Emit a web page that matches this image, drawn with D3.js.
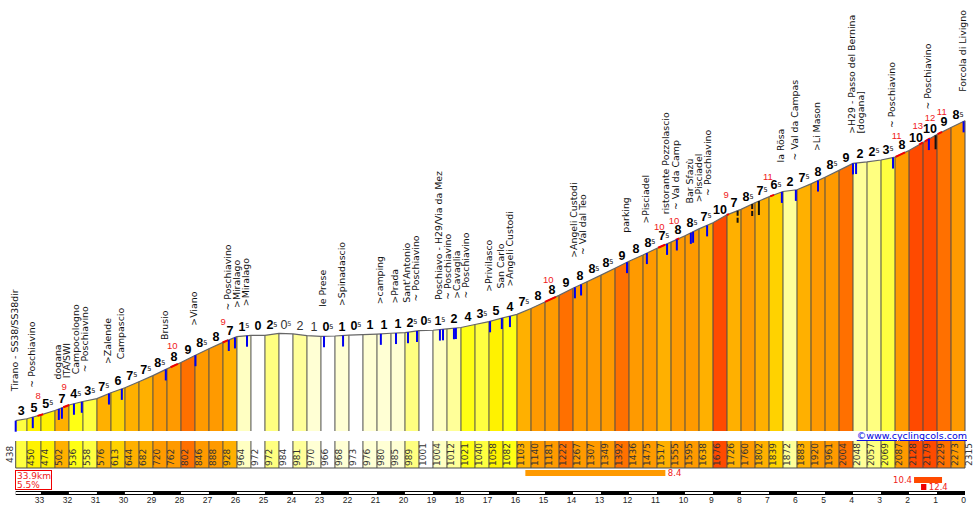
<!DOCTYPE html>
<html>
<head>
<meta charset="utf-8">
<script src="https://cdn.jsdelivr.net/npm/d3@7"></script>
<style>
    html, body { margin: 0; padding: 0; background: #fff; }
    svg { display: block; }
    text { font-family: "DejaVu Sans", sans-serif; }
</style>
</head>
<body>
<svg id="chart"></svg>
<script>
// km to the top at every segment boundary
const kmMarks = [33.9, 33.5, 33, 32.5, 32, 31.5, 31, 30.5, 30, 29.5, 29, 28.5, 28, 27.5, 27, 26.5, 26,
    25.5, 25, 24.5, 24, 23.5, 23, 22.5, 22, 21.5, 21, 20.5, 20, 19.5, 19, 18.5, 18, 17.5, 17, 16.5, 16,
    15.5, 15, 14.5, 14, 13.5, 13, 12.5, 12, 11.5, 11, 10.5, 10, 9.5, 9, 8.5, 8, 7.5, 7, 6.5, 6,
    5.5, 5, 4.5, 4, 3.5, 3, 2.5, 2, 1.5, 1, 0.5, 0];

// altitude at every boundary
const elevations = [438, 450, 474, 502, 536, 558, 576, 613, 644, 682, 720, 762, 802, 846, 888, 928, 964,
    972, 972, 984, 981, 970, 966, 968, 973, 976, 980, 985, 989, 1001, 1004, 1012, 1021, 1040, 1058, 1082, 1103,
    1140, 1181, 1222, 1267, 1307, 1349, 1392, 1436, 1475, 1517, 1555, 1595, 1638, 1676, 1726, 1760, 1802, 1839, 1872, 1883,
    1920, 1961, 2004, 2048, 2057, 2069, 2087, 2128, 2179, 2229, 2273, 2315];

// gradient printed above each segment
const grades = [3, 5, 5.5, 7, 4.5, 3.5, 7.5, 6, 7.5, 7.5, 8.5, 8, 9, 8.5, 8, 7,
    1.5, 0, 2.5, 0.5, 2, 1, 0.5, 1, 0.5, 1, 1, 1, 2.5, 0.5, 1.5, 2, 4, 3.5, 5, 4,
    7.5, 8, 8, 9, 8, 8.5, 8.5, 9, 8, 8.5, 7.5, 8, 8.5, 7.5, 10, 7, 8.5, 7.5, 6.5, 2,
    7.5, 8, 8.5, 9, 2, 2.5, 3.5, 8, 10, 10, 9, 8.5];

// segments that go downhill, printed in a lighter weight
const descents = [19, 20, 21];

const placeNames = ["Tirano - SS38/SS38dir", "~ Poschiavino", "dogana", "ITA/SWI", "Campocologno", "~ Poschiavino",
    ">Zalende", "Campascio", "Brusio", ">Viano", "~ Poschiavino", ">Miralago", ">Miralago", "le Prese", ">Spinadascio",
    ">camping", ">Prada", "Sant'Antonio", "~ Poschiavino", "Poschiavo - H29/Via da Mez", "~ Poschiavino", ">Cavaglia",
    "~ Poschiavino", ">Privilasco", "San Carlo", ">Angeli Custodi", ">Angeli Custodi", "~ Val dal Teo", "parking",
    ">Pisciadel", "ristorante Pozzolascio", "~ Val da Camp", "Bar Sfaz\xF9", ">Pisciadel", "~ Poschiavino", "la R\xF6sa",
    "~ Val da Campas", ">Li Mason", ">H29 - Passo del Bernina", "[dogana]", "~ Poschiavino", "~ Poschiavino", "Forcola di Livigno"];

const placeKm = [33.9, 33.29, 32.36, 32.25, 31.82, 31.54, 30.57, 30.11, 28.54, 27.48, 26.29, 26.07, 25.64, 22.89, 22.21,
    20.86, 20.32, 19.89, 19.57, 18.75, 18.64, 18.25, 18.18, 16.96, 16.54, 16.25, 13.93, 13.71, 12.07,
    11.36, 10.64, 10.29, 9.79, 9.71, 9.21, 6.54, 6.04, 5.25, 4.0, 3.89, 2.57, 1.29, 0.05];

// black marks on the profile (no name), some of them dashed
const blackKm = [8.12, 7.6, 7.36, 1.05];
const blackDashed = [true, true, false, false];

// short steep stretches, drawn red with their max gradient
const steepFrom = [33.12, 32.2, 28.37, 26.51, 15.0, 10.96, 10.33, 8.51, 6.96, 2.48, 1.64, 1.43, 0.98];
const steepTo = [32.92, 31.99, 28.11, 26.31, 14.61, 10.71, 10.21, 8.43, 6.82, 2.14, 1.5, 1.25, 0.82];
const steepMax = [8, 9, 10, 9, 10, 10, 10, 9, 11, 11, 13, 12, 11];
const steepLabelKm = [33.1, 32.17, 28.31, 26.49, 14.88, 10.92, 10.39, 8.53, 7.04, 2.44, 1.69, 1.25, 0.83];

// hardest stretches shown under the strip
const hardFrom = [15.7, 1.82, 1.57];
const hardTo = [10.7, 0.82, 1.38];
const hardAvg = [8.4, 10.4, 12.4];

const kmTicks = d3.range(33, -1, -1);

const totalKm = "33.9km";
const totalPct = "5.5%";

var svgWidth = 979, svgHeight = 508;

var svg = d3.select("#chart")
    .attr("width", svgWidth)
    .attr("height", svgHeight);

var x = d3.scaleLinear() // km to the top, reads right to left
    .domain([33.9, 0])
    .range([15.7, 965]);

var y = d3.scaleLinear() // altitude
    .domain([438, 2315])
    .range([420.7, 120.7]);

var color = d3.scaleThreshold()
    .domain([1, 1.5, 2, 2.5, 3, 4, 5, 6, 7, 8, 9, 10])
    .range(["#ffffff", "#ffffd4", "#ffffc2", "#ffff99", "#ffff80", "#ffff40", "#ffff14", "#fff200", "#ffd200", "#ffb000", "#ff9a00", "#ff7000", "#ff4a00"]);

// altitude anywhere along the road
var altAt = d3.scaleLinear().domain(kmMarks).range(elevations);

var baseY = 431;
var stripTop = 441, stripBottom = 468;

var segments = grades.map(function(g, i) {
    return { grade: g, i: i, from: kmMarks[i], to: kmMarks[i + 1], start: elevations[i], end: elevations[i + 1] };
});

// coloured profile
var area = d3.area()
    .x(function(d) { return x(d.km); })
    .y0(baseY)
    .y1(function(d) { return y(d.alt); });

svg.append("g").selectAll("path")
    .data(segments)
    .enter().append("path")
    .attr("fill", function(d) { return color(d.grade); })
    .attr("d", function(d) { return area([{ km: d.from, alt: d.start }, { km: d.to, alt: d.end }]); });

// segment separators
svg.append("g").selectAll("line")
    .data(kmMarks.slice(1))
    .enter().append("line")
    .attr("x1", function(d) { return x(d); })
    .attr("x2", function(d) { return x(d); })
    .attr("y1", function(d) { return y(altAt(d)); })
    .attr("y2", baseY)
    .attr("stroke", "#4a4a4a")
    .attr("stroke-width", 1);

// profile line
var line = d3.line()
    .x(function(d) { return x(d.km); })
    .y(function(d) { return y(d.alt); });

svg.append("path")
    .datum(kmMarks.map(function(k, i) { return { km: k, alt: elevations[i] }; }))
    .attr("fill", "none")
    .attr("stroke", "#666")
    .attr("stroke-width", 1.2)
    .attr("d", line);

// steep stretches
steepFrom.forEach(function(k, i) {
    svg.append("path")
        .datum([{ km: k, alt: altAt(k) }, { km: steepTo[i], alt: altAt(steepTo[i]) }])
        .attr("fill", "none")
        .attr("stroke", "#f00000")
        .attr("stroke-width", 2)
        .attr("d", line);
    svg.append("text")
        .attr("x", x(steepLabelKm[i]))
        .attr("y", y(altAt(steepLabelKm[i])) - 17)
        .attr("text-anchor", "middle")
        .attr("fill", "#f02020")
        .style("font-family", "Liberation Sans")
        .style("font-size", "9.5px")
        .text(steepMax[i]);
});

// blue place marks
svg.append("g").selectAll("line")
    .data(placeKm)
    .enter().append("line")
    .attr("x1", function(d) { return x(d); })
    .attr("x2", function(d) { return x(d); })
    .attr("y1", function(d) { return y(altAt(d)); })
    .attr("y2", function(d) { return y(altAt(d)) + 11; })
    .attr("stroke", "#0000f0")
    .attr("stroke-width", 2);

// black marks
svg.append("g").selectAll("line")
    .data(blackKm)
    .enter().append("line")
    .attr("x1", function(d) { return x(d); })
    .attr("x2", function(d) { return x(d); })
    .attr("y1", function(d) { return y(altAt(d)); })
    .attr("y2", function(d) { return y(altAt(d)) + 14; })
    .attr("stroke", "#111")
    .attr("stroke-width", 2)
    .attr("stroke-dasharray", function(d, i) { return blackDashed[i] ? "5,2" : null; });

// place names: pushed right when they would touch the previous one
var lastX = -100;
placeNames.forEach(function(name, i) {
    var px = Math.max(x(placeKm[i]) + 2, lastX + 9);
    lastX = px;
    var py = y(altAt(placeKm[i])) - 29.5;
    svg.append("text")
        .attr("transform", "translate(" + px + "," + py + ") rotate(-90)")
        .attr("fill", "#111")
        .style("font-size", "9.4px")
        .text(name);
});

// gradient labels, half percents with a small 5
var gradeLabels = svg.append("g").selectAll("text")
    .data(segments)
    .enter().append("text")
    .attr("x", function(d) { return (x(d.from) + x(d.to)) / 2; })
    .attr("y", function(d) { return y((d.start + d.end) / 2) - 5; })
    .attr("text-anchor", "middle")
    .attr("fill", function(d) { return descents.includes(d.i) ? "#333" : "#000"; })
    .style("font-family", "Liberation Sans")
    .style("font-size", "12.5px")
    .style("font-weight", function(d) { return descents.includes(d.i) ? "normal" : "bold"; });

gradeLabels.append("tspan")
    .text(function(d) { return Math.floor(d.grade); });

gradeLabels.filter(function(d) { return d.grade % 1 !== 0; })
    .append("tspan")
    .attr("dy", "-2.5")
    .style("font-family", "DejaVu Sans")
    .style("font-size", "6.5px")
    .style("font-weight", "normal")
    .text("5");

// altitude strip
var strip = svg.append("g");

strip.selectAll("rect")
    .data(segments)
    .enter().append("rect")
    .attr("x", function(d) { return x(d.from); })
    .attr("y", stripTop)
    .attr("width", function(d) { return x(d.to) - x(d.from); })
    .attr("height", stripBottom - stripTop)
    .attr("fill", function(d) { return color(d.grade); });

strip.selectAll("line.sep")
    .data(kmMarks)
    .enter().append("line")
    .attr("class", "sep")
    .attr("x1", function(d) { return x(d); })
    .attr("x2", function(d) { return x(d); })
    .attr("y1", stripTop)
    .attr("y2", stripBottom)
    .attr("stroke", "#4a4a4a");

strip.append("line")
    .attr("x1", x(33.9))
    .attr("x2", x(0))
    .attr("y1", stripBottom)
    .attr("y2", stripBottom)
    .attr("stroke", "#4a4a4a");

strip.selectAll("text")
    .data(elevations)
    .enter().append("text")
    .attr("transform", function(d, i) {
        var px = i == 0 ? x(kmMarks[0]) - 3 : x(kmMarks[i]) + 7;
        var py = i == 0 ? 463 : 466;
        return "translate(" + px + "," + py + ") rotate(-90)";
    })
    .attr("fill", "#333")
    .style("font-size", "9px")
    .text(function(d) { return d; });

// site link
svg.append("text")
    .attr("x", 967)
    .attr("y", 439)
    .attr("text-anchor", "end")
    .attr("fill", "#0000e0")
    .style("font-size", "9.5px")
    .style("text-decoration", "underline")
    .text("\xA9www.cyclingcols.com");

// summary box
svg.append("rect")
    .attr("x", 15.5)
    .attr("y", 470.5)
    .attr("width", 36)
    .attr("height", 19)
    .attr("fill", "#fff")
    .attr("stroke", "#f00000");

svg.append("text").attr("x", 17).attr("y", 479).attr("fill", "#f02020").style("font-size", "9px").text(totalKm);
svg.append("text").attr("x", 17).attr("y", 488).attr("fill", "#f02020").style("font-size", "9px").text(totalPct);

// hardest stretches
var hardRows = [470, 477, 484];
var hardHeight = 6;
hardFrom.forEach(function(k, i) {
    svg.append("rect")
        .attr("x", x(k))
        .attr("y", hardRows[i])
        .attr("width", x(hardTo[i]) - x(k))
        .attr("height", hardHeight)
        .attr("fill", i == 0 ? color(8.4) : (i == 1 ? color(10.4) : "#f00000"));
    var leftSide = i == 1;
    svg.append("text")
        .attr("x", leftSide ? x(k) - 2 : x(hardTo[i]) + 2.5)
        .attr("y", hardRows[i] + hardHeight)
        .attr("text-anchor", leftSide ? "end" : "start")
        .attr("fill", "#f02020")
        .style("font-size", "8.5px")
        .text(hardAvg[i]);
});

// km ruler, black with every other km left white inside
svg.append("rect")
    .attr("x", x(33.9))
    .attr("y", 491)
    .attr("width", x(0) - x(33.9))
    .attr("height", 4)
    .attr("fill", "#000");

var whiteKm = [33.9].concat(kmTicks.filter(function(k) { return k % 2 == 0 && k > 0; }));
svg.append("g").selectAll("rect")
    .data(whiteKm)
    .enter().append("rect")
    .attr("x", function(d) { return x(d); })
    .attr("y", 492)
    .attr("width", function(d) { return x(d == 33.9 ? 33 : d - 1) - x(d); })
    .attr("height", 2)
    .attr("fill", "#fff");

// km axis
var axisG = svg.append("g")
    .attr("transform", "translate(-2,495)")
    .call(d3.axisBottom(x).tickValues(kmTicks).tickFormat(d3.format("d")).tickSize(0).tickPadding(2));

axisG.select(".domain").remove();
axisG.selectAll("text")
    .attr("fill", "#222")
    .style("font-family", "Liberation Sans")
    .style("font-size", "8.5px");
</script>
</body>
</html>
